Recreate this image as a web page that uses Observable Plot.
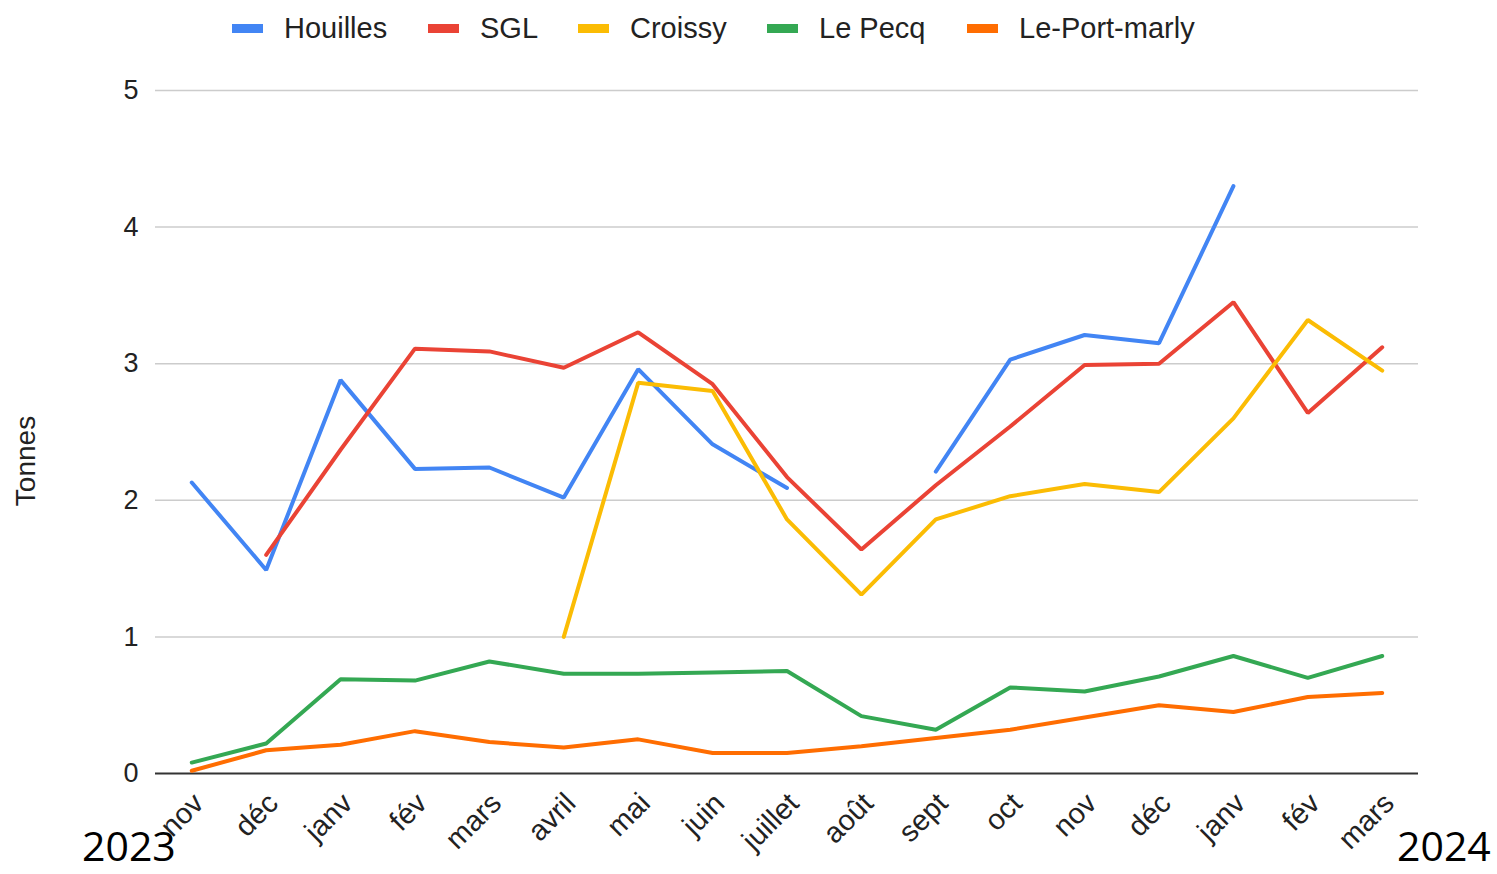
<!DOCTYPE html>
<html>
<head>
<meta charset="utf-8">
<script src="https://cdn.jsdelivr.net/npm/d3@7"></script>
<script src="https://cdn.jsdelivr.net/npm/@observablehq/plot@0.6"></script>
<style>
  body { margin: 0; background: #fff; font-family: "Liberation Sans", Arial, sans-serif; }
  #wrap { position: relative; width: 1497px; height: 874px; overflow: hidden; }
  #legend { position: relative; height: 56px; }
  .item { position: absolute; top: 11px; display: flex; align-items: center; font-size: 29px; color: #222; line-height: 34px; }
  .sw { width: 31px; height: 9px; margin-right: 21px; }
  .year { position: absolute; font-family: "Open Sans", "Noto Sans", sans-serif; font-size: 41px; color: #000; top: 823px; line-height: 44px; }
  #ylabel { position: absolute; left: 26px; top: 461px; transform: translate(-50%, -50%) rotate(-90deg); font-size: 28px; color: #222; white-space: nowrap; }
</style>
</head>
<body>
<div id="wrap">
  <div id="legend"></div>
  <div id="chart"></div>
  <div id="ylabel">Tonnes</div>
  <div class="year" style="left:82px">2023</div>
  <div class="year" style="left:1397px">2024</div>
</div>
<script>
const months = ["nov","déc","janv","fév","mars","avril","mai","juin","juillet","août","sept","oct","nov","déc","janv","fév","mars"];
const seriesNames = ["Houilles","SGL","Croissy","Le Pecq","Le-Port-marly"];
const colors = ["#4285F4","#EA4335","#FBBC04","#34A853","#FF6D01"];
const houilles   = [2.13,1.49,2.88,2.23,2.24,2.02,2.96,2.41,2.09,null,2.21,3.03,3.21,3.15,4.30,null,null];
const sgl        = [null,1.60,2.37,3.11,3.09,2.97,3.23,2.85,2.17,1.64,2.11,2.54,2.99,3.00,3.45,2.64,3.12];
const croissy    = [null,null,null,null,null,1.00,2.86,2.80,1.86,1.31,1.86,2.03,2.12,2.06,2.60,3.32,2.95];
const lePecq     = [0.08,0.22,0.69,0.68,0.82,0.73,0.73,0.74,0.75,0.42,0.32,0.63,0.60,0.71,0.86,0.70,0.86];
const portMarly  = [0.02,0.17,0.21,0.31,0.23,0.19,0.25,0.15,0.15,0.20,0.26,0.32,0.41,0.50,0.45,0.56,0.59];
const yTicks = [0,1,2,3,4,5];

const allSeries = [houilles, sgl, croissy, lePecq, portMarly];
const data = [];
allSeries.forEach((vals, s) => vals.forEach((v, i) => data.push({series: seriesNames[s], i, value: v})));

// legend
const legend = document.getElementById("legend");
const legendX = [232, 428, 578, 767, 967];
seriesNames.forEach((name, k) => {
  const d = document.createElement("div");
  d.className = "item";
  d.style.left = legendX[k] + "px";
  d.innerHTML = `<span class="sw" style="background:${colors[k]}"></span><span>${name}</span>`;
  legend.appendChild(d);
});

const chart = Plot.plot({
  width: 1497,
  height: 818,
  marginTop: 34,
  marginBottom: 101,
  marginLeft: 155,
  marginRight: 79,
  style: {fontFamily: "'Liberation Sans', Arial, sans-serif", fontSize: "27px", color: "#222", background: "#fff"},
  x: {type: "point", domain: d3.range(months.length), padding: 0.4875, round: false},
  y: {domain: [0, 5], ticks: yTicks},
  color: {domain: seriesNames, range: colors},
  marks: [
    Plot.gridY(yTicks.filter(t => t > 0), {stroke: "#cccccc", strokeOpacity: 1, strokeWidth: 1.5}),
    Plot.axisY(yTicks, {tickSize: 0, tickPadding: 17, tickFormat: d => String(d), label: null, fontSize: 27}),
    Plot.axisX(d3.range(months.length), {tickSize: 0, tickRotate: -45, tickPadding: 25, dx: 7, tickFormat: i => months[i], label: null, fontSize: 29}),
    Plot.ruleY([0], {stroke: "#333", strokeWidth: 2}),
    Plot.line(data, {x: "i", y: "value", z: "series", stroke: "series", strokeWidth: 4, strokeLinejoin: "miter", curve: "linear"})
  ]
});
document.getElementById("chart").appendChild(chart);
</script>
</body>
</html>
